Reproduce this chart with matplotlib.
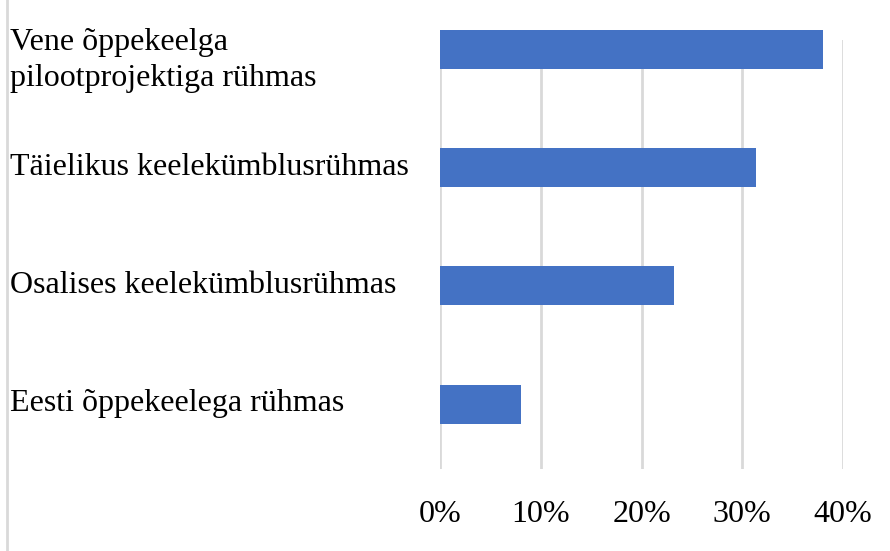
import matplotlib
matplotlib.use("Agg")
import matplotlib.pyplot as plt
from matplotlib.transforms import blended_transform_factory, ScaledTranslation
from matplotlib.lines import Line2D
import numpy as np

categories = ["Vene õppekeelga\npilootprojektiga rühmas",
              "Täielikus keelekümblusrühmas",
              "Osalises keelekümblusrühmas",
              "Eesti õppekeelega rühmas"]
values = [38.0, 31.4, 23.2, 8.0]
xticks = [0, 10, 20, 30, 40]
xticklabels = ["0%", "10%", "20%", "30%", "40%"]

plt.rcParams['font.family'] = ['Liberation Serif', 'DejaVu Serif']

W, H = 890, 551
fig = plt.figure(figsize=(W/100, H/100), dpi=100)
ax = fig.add_axes([440/W, (H-469)/H, (843-440)/W, (469-40)/H])

y = np.arange(len(categories))
ax.barh(y, values, height=0.33, color="#4472C4", clip_on=False, zorder=3)
ax.set_ylim(3.55, -0.08)
ax.set_xlim(0, 40)
ax.set_xticks(xticks)
ax.set_xticklabels(xticklabels, fontsize=23)
ax.tick_params(axis='x', length=0, pad=22)
ax.set_yticks([])
ax.grid(axis='x', color="#d9d9d9", linewidth=2, zorder=0)
for s in ax.spines.values():
    s.set_visible(False)

tr = blended_transform_factory(fig.transFigure, ax.transData)
for yi, lab in zip(y, categories):
    t = tr
    if "\n" in lab:
        t = tr + ScaledTranslation(0, -0.11, fig.dpi_scale_trans)
    ax.text(10/W, yi, lab, transform=t, ha='left', va='center', fontsize=23,
            linespacing=1.3)

fig.add_artist(Line2D([7/W, 7/W], [0, 1], transform=fig.transFigure,
                      color="#d9d9d9", linewidth=2))

fig.savefig("out.png", dpi=100)
